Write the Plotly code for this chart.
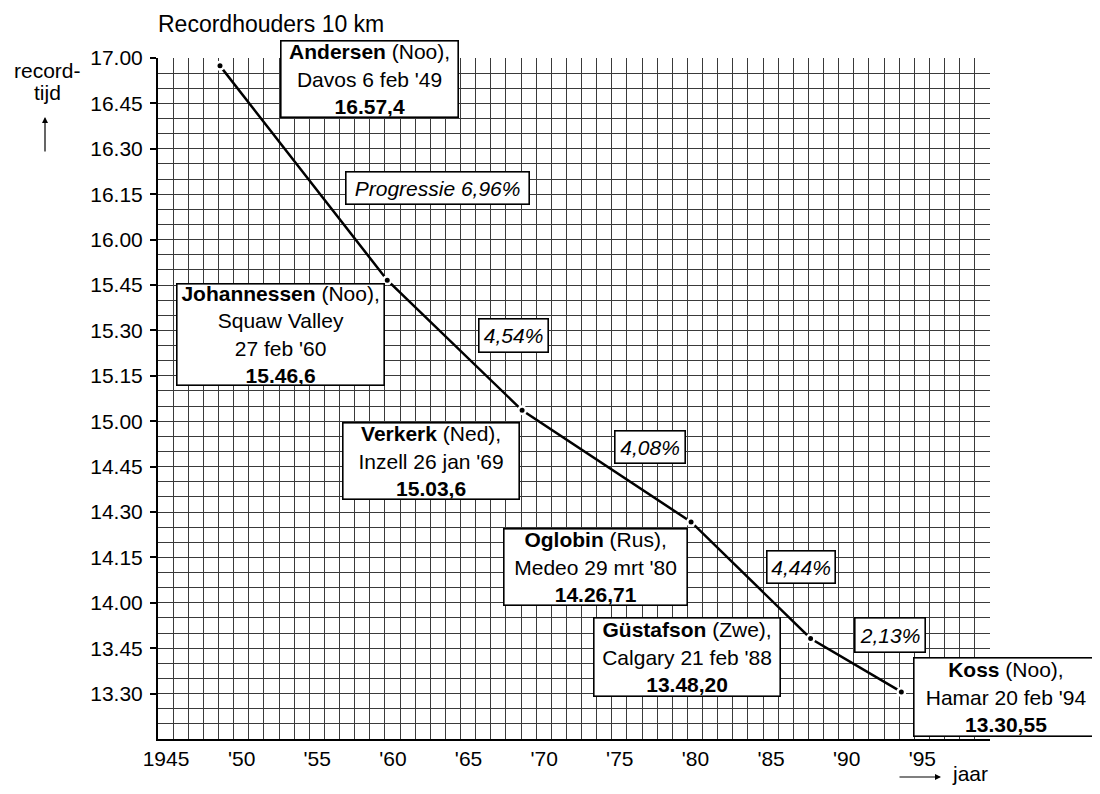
import plotly.graph_objects as go

# ---------------- data ----------------
record_dates = ["1949-02-06", "1960-02-27", "1969-01-26", "1980-03-29", "1988-02-21", "1994-02-20"]
record_seconds = [1017.4, 946.6, 903.6, 866.71, 828.20, 810.55]
skaters = ["Andersen", "Johannessen", "Verkerk", "Oglobin", "Güstafson", "Koss"]
countries = ["Noo", "Noo", "Ned", "Rus", "Zwe", "Noo"]
venues = ["Davos 6 feb '49", "Squaw Valley<br>27 feb '60", "Inzell 26 jan '69",
          "Medeo 29 mrt '80", "Calgary 21 feb '88", "Hamar 20 feb '94"]
record_labels = ["16.57,4", "15.46,6", "15.03,6", "14.26,71", "13.48,20", "13.30,55"]
progress_labels = ["Progressie 6,96%", "4,54%", "4,08%", "4,44%", "2,13%"]

x_tick_vals = ["1945-01-01", "1950-01-01", "1955-01-01", "1960-01-01", "1965-01-01",
               "1970-01-01", "1975-01-01", "1980-01-01", "1985-01-01", "1990-01-01", "1995-01-01"]
x_tick_text = ["1945", "'50", "'55", "'60", "'65", "'70", "'75", "'80", "'85", "'90", "'95"]
y_tick_vals = [1020, 1005, 990, 975, 960, 945, 930, 915, 900, 885, 870, 855, 840, 825, 810]
y_tick_text = ["17.00", "16.45", "16.30", "16.15", "16.00", "15.45", "15.30", "15.15",
               "15.00", "14.45", "14.30", "14.15", "14.00", "13.45", "13.30"]

# ---------------- layout helpers (page pixel -> paper) ----------------
OFF = 8                      # page body margin
W, H = 1100 - 2 * OFF, 794 - 2 * OFF
L, T = 158 - OFF, 58 - OFF
R, B = W - (990 - OFF), H - (739 - OFF)
PW, PH = W - L - R, H - T - B


def px(xp):
    return (xp - OFF - L) / PW


def py(yp):
    return (H - B - (yp - OFF)) / PH


FONT = "Liberation Sans, Arial, Helvetica, sans-serif"

fig = go.Figure()
fig.add_trace(go.Scatter(
    x=record_dates, y=record_seconds, mode="lines+markers",
    line=dict(color="black", width=2.5),
    marker=dict(color="black", size=7.5, line=dict(color="white", width=2.5)),
    cliponaxis=False, hoverinfo="skip", showlegend=False,
))

annotations = []

# record boxes: centre (page pixels) and size
rec_boxes = [(369.5, 79, 179, 78), (280.5, 334.5, 209, 103), (431, 461, 178, 78),
             (595.5, 567, 185, 78), (687, 657, 188, 80), (1006, 697, 186, 80)]
for name, ctry, ven, lab, (cx, cy, bw, bh) in zip(skaters, countries, venues, record_labels, rec_boxes):
    annotations.append(dict(
        xref="paper", yref="paper", x=px(cx), y=py(cy), xanchor="center", yanchor="middle",
        text=f"<b>{name}</b> ({ctry}),<br>{ven}<br><b>{lab}</b>",
        showarrow=False, align="center", font=dict(family=FONT, size=21, color="black"),
        bgcolor="white", bordercolor="black", borderwidth=1.6, borderpad=0,
        width=bw - 3, height=bh - 3,
    ))

prog_boxes = [(437.5, 188, 185, 34), (513.5, 335.5, 71, 35), (650, 447, 72, 34),
              (801, 567, 70, 34), (890, 635, 72, 36)]
for lab, (cx, cy, bw, bh) in zip(progress_labels, prog_boxes):
    annotations.append(dict(
        xref="paper", yref="paper", x=px(cx), y=py(cy), xanchor="center", yanchor="middle",
        text=f"<i>{lab}</i>", showarrow=False, align="center",
        font=dict(family=FONT, size=21, color="black"),
        bgcolor="white", bordercolor="black", borderwidth=1.6, borderpad=0,
        width=bw - 3, height=bh - 3,
    ))

# title and axis captions
annotations += [
    dict(xref="paper", yref="paper", x=px(156), y=py(24), xanchor="left", yanchor="middle",
         text="Recordhouders 10 km", showarrow=False, font=dict(family=FONT, size=23, color="black")),
    dict(xref="paper", yref="paper", x=px(47), y=py(70), xanchor="center", yanchor="middle",
         text="record-", showarrow=False, font=dict(family=FONT, size=21, color="black")),
    dict(xref="paper", yref="paper", x=px(47), y=py(93), xanchor="center", yanchor="middle",
         text="tijd", showarrow=False, font=dict(family=FONT, size=21, color="black")),
    dict(xref="paper", yref="paper", x=px(45), y=py(117), text="", showarrow=True,
         ax=0, ay=36, arrowhead=2, arrowsize=1, arrowwidth=1.2, arrowcolor="black"),
    dict(xref="paper", yref="paper", x=px(970), y=py(773), xanchor="center", yanchor="middle",
         text="jaar", showarrow=False, font=dict(family=FONT, size=21, color="black")),
    dict(xref="paper", yref="paper", x=px(941), y=py(777), text="", showarrow=True,
         ax=-43, ay=0, arrowhead=2, arrowsize=1, arrowwidth=1.2, arrowcolor="black"),
]

GRID = "#3a3a3a"
fig.update_layout(
    width=W, height=H, autosize=False,
    margin=dict(l=L, r=R, t=T, b=B, pad=0),
    paper_bgcolor="white", plot_bgcolor="white",
    font=dict(family=FONT, size=20, color="black"),
    annotations=annotations,
    xaxis=dict(
        type="date", range=["1945-01-01", "2000-01-01"],
        tickvals=x_tick_vals, ticktext=x_tick_text, ticks="", ticklabelshift=8,
        ticklabelstandoff=0,
        tickfont=dict(family=FONT, size=21, color="black"),
        showgrid=True, gridcolor=GRID, gridwidth=1,
        minor=dict(dtick="M12", tick0="1945-01-01", showgrid=True, gridcolor=GRID, gridwidth=1),
        showline=True, linecolor="black", linewidth=2, zeroline=False,
        fixedrange=True,
    ),
    yaxis=dict(
        range=[795, 1020], tickvals=y_tick_vals, ticktext=y_tick_text,
        ticks="outside", ticklen=6, tickwidth=1.5, tickcolor="black", ticklabelstandoff=3,
        tickfont=dict(family=FONT, size=21, color="black"),
        showgrid=True, gridcolor=GRID, gridwidth=1,
        minor=dict(dtick=5, tick0=795, showgrid=True, gridcolor=GRID, gridwidth=1),
        showline=True, linecolor="black", linewidth=2, zeroline=False,
        fixedrange=True,
    ),
)

fig.write_html("out.html")
